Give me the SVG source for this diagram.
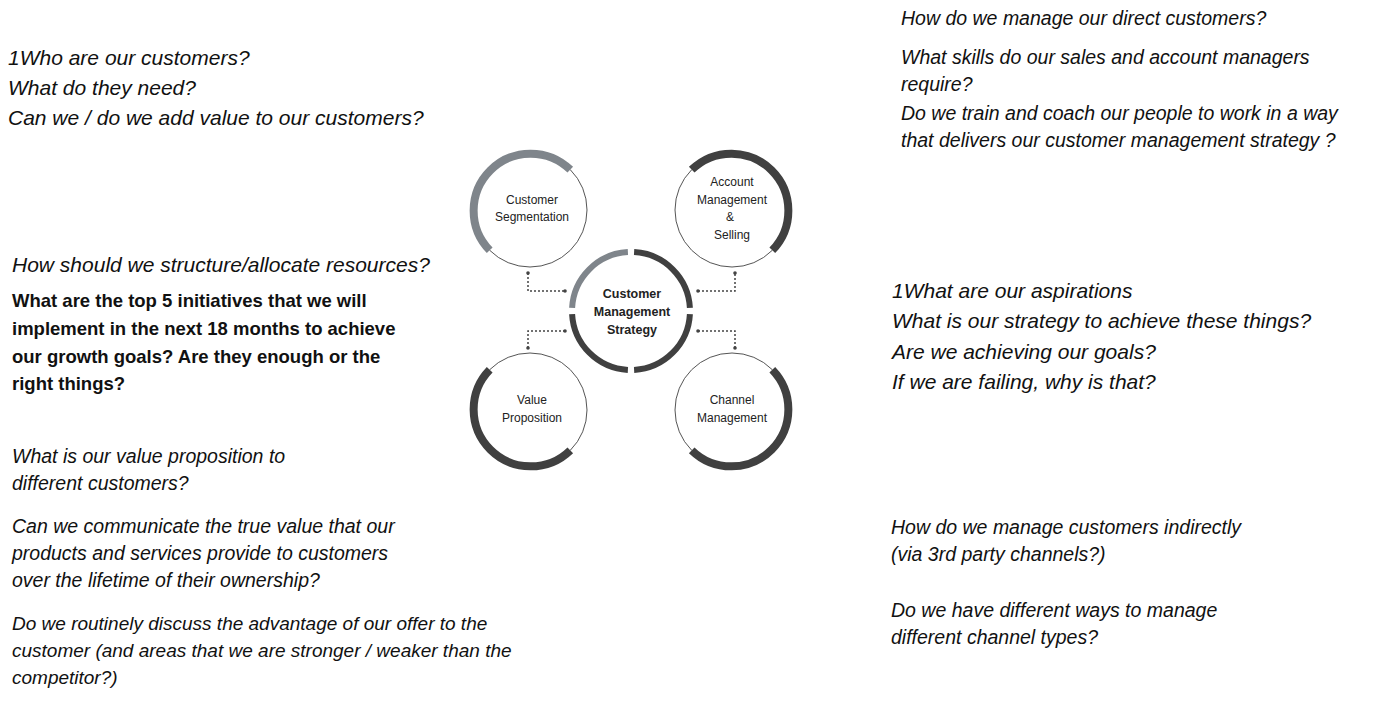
<svg xmlns="http://www.w3.org/2000/svg" width="1400" height="709" viewBox="0 0 1400 709">
<style>
.q{font-family:"Liberation Sans",Arial,sans-serif;font-style:italic;font-size:19.5px;fill:#111}
.b{font-family:"Liberation Sans",Arial,sans-serif;font-weight:bold;font-size:18.5px;fill:#111}
.n{font-family:"Liberation Sans",Arial,sans-serif;font-size:12px;fill:#222;text-anchor:middle}
.c{fill:#fff;stroke:#555;stroke-width:1}
.g{fill:none;stroke:#7f858b;stroke-width:8}
.d{fill:none;stroke:#404040;stroke-width:8}
.dot{fill:none;stroke:#444;stroke-width:1.5;stroke-dasharray:2 2}
</style>
<rect width="1400" height="709" fill="#fff"/>
<g id="connectors">
<path class="dot" d="M528 273 V291 H565"/><circle cx="528" cy="273" r="1.8" fill="#444"/><circle cx="565" cy="291" r="1.8" fill="#444"/>
<path class="dot" d="M698 291 H735 V273"/><circle cx="698" cy="291" r="1.8" fill="#444"/><circle cx="735" cy="273" r="1.8" fill="#444"/>
<path class="dot" d="M565 331 H528 V348"/><circle cx="565" cy="331" r="1.8" fill="#444"/><circle cx="528" cy="348" r="1.8" fill="#444"/>
<path class="dot" d="M698 331 H735 V348"/><circle cx="698" cy="331" r="1.8" fill="#444"/><circle cx="735" cy="348" r="1.8" fill="#444"/>
</g>
<g id="seg"><circle class="c" cx="530" cy="210" r="57"/><path class="g" d="M570.3 169.7 A57 57 0 0 0 489.7 250.3"/>
<text class="n" x="532" y="204">Customer</text><text class="n" x="532" y="221">Segmentation</text></g>
<g id="acct"><circle class="c" cx="732" cy="210" r="57"/><path class="d" d="M691.7 169.7 A57 57 0 0 1 772.3 250.3"/>
<text class="n" x="732" y="186">Account</text><text class="n" x="732" y="204">Management</text><text class="n" x="730" y="221">&amp;</text><text class="n" x="732" y="239">Selling</text></g>
<g id="value"><circle class="c" cx="530" cy="410" r="57"/><path class="d" d="M570.3 450.3 A57 57 0 0 1 489.7 369.7"/>
<text class="n" x="532" y="404">Value</text><text class="n" x="532" y="422">Proposition</text></g>
<g id="channel"><circle class="c" cx="732" cy="410" r="57"/><path class="d" d="M772.3 369.7 A57 57 0 0 1 691.7 450.3"/>
<text class="n" x="732" y="404">Channel</text><text class="n" x="732" y="422">Management</text></g>
<g id="center">
<path class="g" style="stroke-width:6" d="M572.1 307.9 A59 59 0 0 1 627.9 252.1"/>
<path class="d" style="stroke-width:6" d="M634.1 252.1 A59 59 0 0 1 689.9 307.9"/>
<path class="d" style="stroke-width:6" d="M689.9 314.1 A59 59 0 0 1 634.1 369.9"/>
<path class="d" style="stroke-width:6" d="M627.9 369.9 A59 59 0 0 1 572.1 314.1"/>
<text class="n" style="font-weight:bold;font-size:12.5px" x="632" y="298">Customer</text>
<text class="n" style="font-weight:bold;font-size:12.5px" x="632" y="316">Management</text>
<text class="n" style="font-weight:bold;font-size:12.5px" x="632" y="334">Strategy</text>
</g>
<g id="texts">
<text class="q" style="font-size:21px" x="8" y="65">1Who are our customers?</text>
<text class="q" style="font-size:21px" x="8" y="95">What do they need?</text>
<text class="q" style="font-size:21px" x="8" y="125">Can we / do we add value to our customers?</text>
<text class="q" x="901" y="25">How do we manage our direct customers?</text>
<text class="q" x="901" y="64"> What skills do our sales and account managers</text>
<text class="q" x="901" y="91">require?</text>
<text class="q" x="901" y="120">Do we train and coach our people to work in a way</text>
<text class="q" x="901" y="147">that delivers our customer management strategy ?</text>
<text class="q" style="font-size:21px" x="12" y="272">How should we structure/allocate resources?</text>
<text class="b" x="12" y="307">What are the top 5 initiatives that we will</text>
<text class="b" x="12" y="335">implement in the next 18 months to achieve</text>
<text class="b" x="12" y="363">our growth goals? Are they enough or the</text>
<text class="b" x="12" y="390">right things?</text>
<text class="q" style="font-size:21px" x="892" y="298">1What are our aspirations</text>
<text class="q" style="font-size:21px" x="892" y="328">What is our strategy to achieve these things?</text>
<text class="q" style="font-size:21px" x="892" y="359">Are we achieving our goals?</text>
<text class="q" style="font-size:21px" x="892" y="389">If we are failing, why is that?</text>
<text class="q" x="12" y="463">What is our value proposition to</text>
<text class="q" x="12" y="490">different customers?</text>
<text class="q" x="12" y="533">Can we communicate the true value that our</text>
<text class="q" x="12" y="560">products and services provide to customers</text>
<text class="q" x="12" y="587">over the lifetime of their ownership?</text>
<text class="q" style="font-size:19px" x="12" y="630">Do we routinely discuss the advantage of our offer to the</text>
<text class="q" style="font-size:19px" x="12" y="657">customer (and areas that we are stronger / weaker than the</text>
<text class="q" style="font-size:19px" x="12" y="684">competitor?)</text>
<text class="q" x="891" y="534">How do we manage customers indirectly</text>
<text class="q" x="891" y="561">(via 3rd party channels?)</text>
<text class="q" x="891" y="617">Do we have different ways to manage</text>
<text class="q" x="891" y="644">different channel types?</text>
</g>
</svg>
